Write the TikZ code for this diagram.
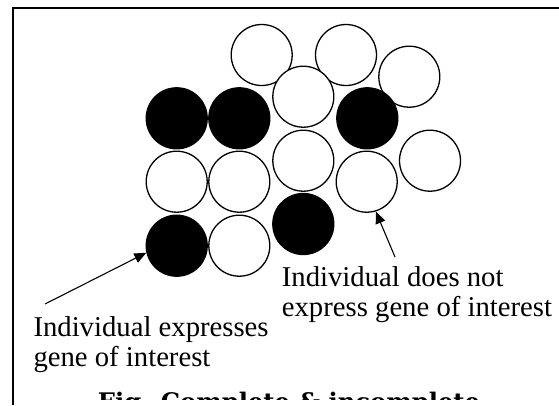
\documentclass[tikz,border=0pt]{standalone}
\usepackage{fontspec}
\setmainfont{Liberation Serif}
\newfontfamily\capfont{DejaVu Serif}
\usetikzlibrary{arrows.meta}
\begin{document}
\begin{tikzpicture}[x=1pt,y=-1pt,
  cell/.style={circle,draw=black,line width=1.3pt,minimum size=61pt,inner sep=0pt},
  fullcell/.style={cell,fill=black},
  opencell/.style={cell,fill=white},
  pointer/.style={line width=1.1pt,-{Triangle[length=12pt,width=10pt]}},
  lbl/.style={font=\fontsize{28.7}{30}\selectfont,anchor=base west,inner sep=0pt,align=left}]
\useasboundingbox (0,0) rectangle (559,405);
% frame
\draw[line width=2pt] (12.5,405) -- (12.5,7.5) -- (560,7.5);
% circles
\node[opencell] (t1) at (261.7,55) {};
\node[opencell] (t2) at (346,55) {};
\node[opencell] (t3) at (409.3,76.7) {};
\node[opencell] (c1) at (303.3,96.7) {};
\node[fullcell] (b1) at (176.7,118.3) {};
\node[fullcell] (b2) at (239.3,118.3) {};
\node[fullcell] (b3) at (367.3,118.3) {};
\node[opencell] (w1) at (176.7,181.7) {};
\node[opencell] (w2) at (239.3,181.7) {};
\node[opencell] (c2) at (303.3,160.7) {};
\node[opencell] (w3) at (366.7,181.7) {};
\node[opencell] (w4) at (430,160.7) {};
\node[fullcell] (b4) at (176.7,245.7) {};
\node[opencell] (w5) at (239.3,245.7) {};
\node[fullcell] (b5) at (303.3,224) {};
% labels
\node[lbl] (ln1) at (281.7,286.5) {Individual does not};
\node[lbl] (ln2) at (281.7,316.5) {express gene of interest};
\node[lbl] (lp1) at (33.3,336.5) {Individual expresses};
\node[lbl] (lp2) at (33.3,366.5) {gene of interest};
% arrows
\coordinate (tailp) at (45,304);
\coordinate (tailn) at (395,257);
\draw[pointer] (tailp) -- (b4.193);
\draw[pointer] (tailn) -- (w3.287);
% caption (cut off at the lower edge)
\begin{scope}
\clip (0,0) rectangle (559,399.5);
\node[font=\capfont\bfseries\fontsize{24.2}{26}\selectfont,anchor=base,inner sep=0pt] (cap) at (289,410.3) {Fig. Complete \& incomplete};
\end{scope}
\end{tikzpicture}
\end{document}
